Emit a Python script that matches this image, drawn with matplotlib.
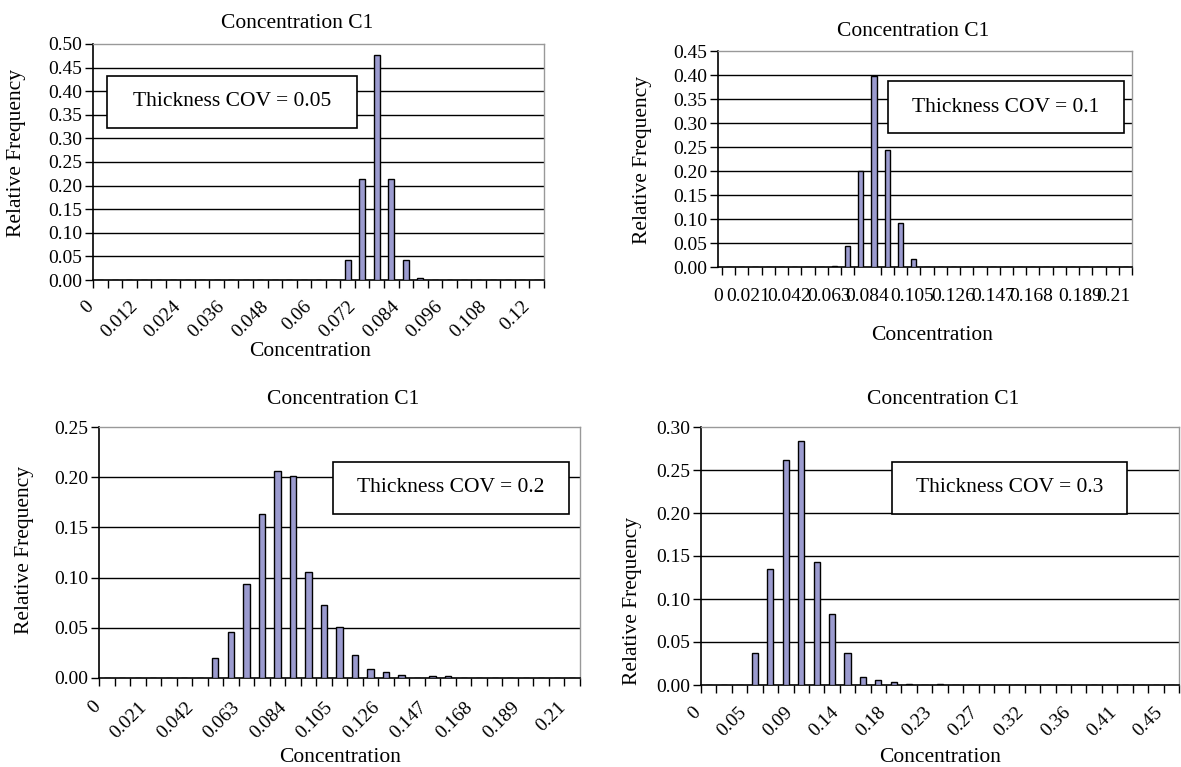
import matplotlib
matplotlib.use("Agg")
import matplotlib.pyplot as plt
import matplotlib.transforms as mtransforms
from matplotlib.patches import Rectangle
import numpy as np

plt.rcParams['font.family'] = ['Liberation Serif', 'DejaVu Serif']

# relative frequency per concentration bin (31 bins each)
freq_005 = [0, 0, 0, 0, 0, 0, 0, 0, 0, 0, 0, 0, 0, 0, 0, 0, 0,
            0.042, 0.214, 0.477, 0.214, 0.043, 0.005,
            0, 0, 0, 0, 0, 0, 0, 0]
freq_010 = [0, 0, 0, 0, 0, 0, 0, 0,
            0.003, 0.043, 0.201, 0.397, 0.244, 0.092, 0.017,
            0, 0, 0, 0, 0, 0, 0, 0, 0, 0, 0, 0, 0, 0, 0, 0]
freq_020 = [0, 0, 0, 0, 0, 0, 0,
            0.0196, 0.0458, 0.0936, 0.1637, 0.2062, 0.2009, 0.106, 0.073,
            0.051, 0.023, 0.0086, 0.006, 0.003, 0, 0.002, 0.002,
            0, 0, 0, 0, 0, 0, 0, 0]
freq_030 = [0, 0, 0,
            0.0369, 0.135, 0.2616, 0.2842, 0.1425, 0.0831, 0.0369, 0.0097,
            0.0062, 0.0031, 0.0016, 0, 0.0016,
            0, 0, 0, 0, 0, 0, 0, 0, 0, 0, 0, 0, 0, 0, 0]

labels_005 = ["0", "0.012", "0.024", "0.036", "0.048", "0.06",
              "0.072", "0.084", "0.096", "0.108", "0.12"]
labels_010 = ["0", "0.021", "0.042", "0.063", "0.084", "0.105",
              "0.126", "0.147", "0.168", "0.189", "0.21"]
labels_020 = labels_010
labels_030 = ["0", "0.05", "0.09", "0.14", "0.18", "0.23",
              "0.27", "0.32", "0.36", "0.41", "0.45"]

# horizontal labels of the COV=0.1 chart are squeezed, as in the original
label_pos_010 = [-0.8, 1.45, 4.55, 7.6, 10.5, 13.9, 17.0, 20.0, 22.9, 26.6, 29.1]

W, H = 1181, 767
fig = plt.figure(figsize=(W / 100, H / 100), dpi=100)

def px(x0, y0, x1, y1):
    # pixel box -> figure fraction [left, bottom, width, height]
    return [x0 / W, 1 - y1 / H, (x1 - x0) / W, (y1 - y0) / H]

panels = [
    dict(box=(93, 44, 544, 280), freq=freq_005, labels=labels_005, ymax=0.5,
         rot=45, cov="0.05", title=(297, 24), xlab=(310, 352), ylab=(17, 153),
         tbox=(107, 76, 357, 128), pad=17, dx=-9),
    dict(box=(718, 51, 1132, 267), freq=freq_010, labels=labels_010, ymax=0.45,
         rot=0, cov="0.1", title=(913, 31), xlab=(932, 335), ylab=(643, 160),
         tbox=(888, 81, 1124, 133), pad=15, dx=0, pos=label_pos_010),
    dict(box=(99, 427, 580, 678), freq=freq_020, labels=labels_020, ymax=0.25,
         rot=45, cov="0.2", title=(343, 400), xlab=(340, 758), ylab=(25, 550),
         tbox=(333, 462, 569, 514), pad=19, dx=-9),
    dict(box=(701, 427, 1179, 685), freq=freq_030, labels=labels_030, ymax=0.30,
         rot=45, cov="0.3", title=(943, 400), xlab=(940, 758), ylab=(632, 601),
         tbox=(892, 462, 1127, 514), pad=18, dx=-11),
]

for p in panels:
    ax = fig.add_axes(px(*p["box"]))
    n = len(p["freq"])
    x = np.arange(n)
    ax.bar(x, p["freq"], width=0.4, color="#9b9bcf", edgecolor="black",
           linewidth=1.0, zorder=3)
    ax.set_xlim(-0.5, n - 0.5)
    ax.set_ylim(0, p["ymax"])
    yt = np.arange(0, p["ymax"] + 1e-9, 0.05)
    ax.set_yticks(yt)
    ax.set_yticklabels([f"{v:.2f}" for v in yt], fontsize=14)
    for v in yt[1:-1]:
        ax.axhline(v, color="black", linewidth=1.0, zorder=1)
    ax.set_xticks(p.get("pos", x[::3]))
    ax.set_xticklabels(p["labels"], fontsize=14, rotation=p["rot"],
                       ha="right" if p["rot"] else "center",
                       rotation_mode="anchor" if p["rot"] else "default")
    ax.set_xticks(np.arange(-0.5, n, 1.0), minor=True)
    ax.tick_params(axis="x", which="major", length=0, pad=p["pad"])
    ax.tick_params(axis="x", which="minor", length=6, width=1.0, direction="out")
    ax.tick_params(axis="y", length=6, width=1.0, direction="out", pad=2)
    ax.spines["left"].set_linewidth(1.2)
    ax.spines["bottom"].set_linewidth(1.2)
    for s in ("top", "right"):
        ax.spines[s].set_color("#999999")
        ax.spines[s].set_linewidth(1.0)
    shift = mtransforms.ScaledTranslation(p["dx"] / 100, 0, fig.dpi_scale_trans)
    for t in ax.get_xticklabels():
        if p["rot"]:
            t.set_va("center")
        t.set_transform(t.get_transform() + shift)

    tx, ty = p["title"]
    fig.text(tx / W, 1 - ty / H, "Concentration C1", fontsize=15.5,
             ha="center", va="center")
    lx, ly = p["xlab"]
    fig.text(lx / W, 1 - ly / H, "Concentration", fontsize=15.5,
             ha="center", va="center")
    yx, yy = p["ylab"]
    fig.text(yx / W, 1 - yy / H, "Relative Frequency", fontsize=15.5,
             ha="center", va="center", rotation=90)
    bx0, by0, bx1, by1 = p["tbox"]
    fig.add_artist(Rectangle((bx0 / W, 1 - by1 / H), (bx1 - bx0) / W,
                             (by1 - by0) / H, transform=fig.transFigure,
                             facecolor="white", edgecolor="black",
                             linewidth=1.2, zorder=5))
    fig.text((bx0 + bx1) / 2 / W, 1 - (by0 + by1) / 2 / H,
             "Thickness COV = " + p["cov"], fontsize=15.5,
             ha="center", va="center", zorder=6)

fig.savefig("out.png", dpi=100)
